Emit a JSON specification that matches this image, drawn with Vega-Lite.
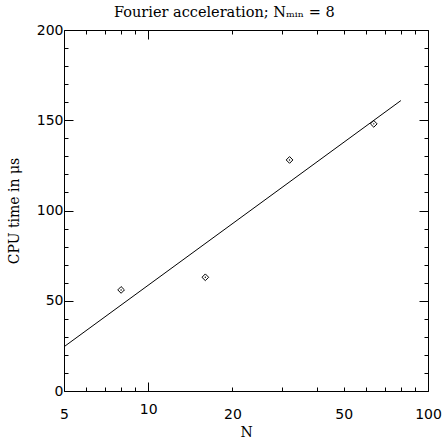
{
  "$schema": "https://vega.github.io/schema/vega-lite/v6.json",
  "width": 364,
  "height": 361,
  "autosize": "none",
  "padding": {"left": 64, "top": 30, "right": 16, "bottom": 52},
  "background": "white",
  "title": {"text": "Fourier acceleration; Nₘᵢₙ = 8", "font": "DejaVu Serif", "fontSize": 14.5, "fontWeight": "normal", "color": "black", "frame": "bounds", "anchor": "middle", "offset": 3},
  "config": {
    "view": {"stroke": null},
    "axis": {"domainColor": "black", "tickColor": "black", "labelColor": "black", "titleColor": "black", "labelFont": "DejaVu Sans", "labelFontSize": 14, "titleFont": "DejaVu Serif", "titleFontSize": 14, "titleFontWeight": "normal", "grid": false, "domainWidth": 1, "tickWidth": 1}
  },
  "datasets": {
    "pts": [{"N": 8, "t": 56}, {"N": 16, "t": 63}, {"N": 32, "t": 128}, {"N": 64, "t": 148}],
    "fit": [{"N": 5, "t": 24.5}, {"N": 80, "t": 160.9}]
  },
  "resolve": {"axis": {"x": "independent", "y": "independent"}},
  "layer": [
    {
      "data": {"name": "pts"},
      "mark": {"type": "point", "shape": "diamond", "size": 45, "filled": false, "color": "black", "strokeWidth": 1, "opacity": 1},
      "encoding": {
        "x": {"field": "N", "type": "quantitative", "scale": {"type": "log", "domain": [5, 100], "nice": false},
          "axis": {"orient": "bottom", "title": "N", "values": [5, 6, 7, 8, 9, 10, 20, 30, 40, 50, 60, 70, 80, 90, 100],
            "labelExpr": "indexof([5,10,20,50,100], datum.value) >= 0 ? datum.label : ''",
            "tickSize": {"condition": {"test": "datum.value == 10", "value": -9}, "value": -4},
            "labelPadding": 20, "titlePadding": 4, "labelFlush": false, "labelOverlap": false}},
        "y": {"field": "t", "type": "quantitative", "scale": {"domain": [0, 200], "nice": false},
          "axis": {"orient": "left", "title": "CPU time in μs", "values": [0, 10, 20, 30, 40, 50, 60, 70, 80, 90, 100, 110, 120, 130, 140, 150, 160, 170, 180, 190, 200],
            "labelExpr": "datum.value % 50 == 0 ? datum.label : ''",
            "tickSize": {"condition": {"test": "datum.value % 50 == 0", "value": -9}, "value": -4},
            "labelPadding": 10, "titlePadding": 15, "labelFlush": false, "labelOverlap": false}}
      }
    },
    {
      "data": {"name": "pts"},
      "mark": {"type": "point", "shape": "circle", "size": 2, "filled": true, "color": "black", "opacity": 1},
      "encoding": {
        "x": {"field": "N", "type": "quantitative", "axis": null},
        "y": {"field": "t", "type": "quantitative", "axis": null}
      }
    },
    {
      "data": {"name": "fit"},
      "mark": {"type": "line", "color": "black", "strokeWidth": 1},
      "encoding": {
        "x": {"field": "N", "type": "quantitative",
          "axis": {"orient": "top", "title": null, "labels": false, "values": [5, 6, 7, 8, 9, 10, 20, 30, 40, 50, 60, 70, 80, 90, 100],
            "tickSize": {"condition": {"test": "datum.value == 10", "value": -9}, "value": -4}}},
        "y": {"field": "t", "type": "quantitative",
          "axis": {"orient": "right", "title": null, "labels": false, "values": [0, 10, 20, 30, 40, 50, 60, 70, 80, 90, 100, 110, 120, 130, 140, 150, 160, 170, 180, 190, 200],
            "tickSize": {"condition": {"test": "datum.value % 50 == 0", "value": -9}, "value": -4}}}
      }
    }
  ]
}
